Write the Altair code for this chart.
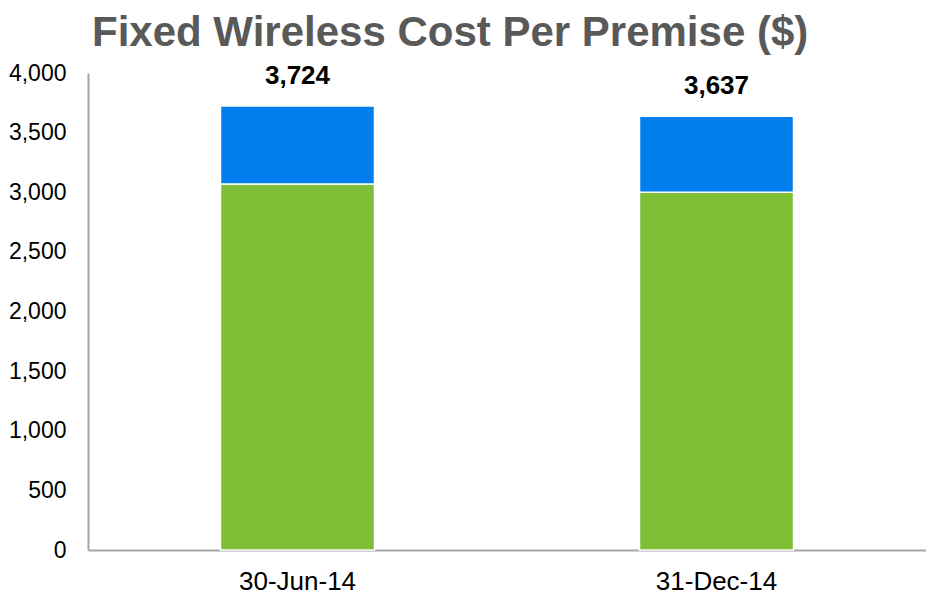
import altair as alt
import pandas as pd

dates = ["30-Jun-14", "31-Dec-14"]
green_vals = [3070, 3000]
blue_vals = [654, 637]
totals = [3724, 3637]
segments = ["Base", "Other"]
colors = ["#7DBF35", "#007EEE"]

rows = []
for d, g, b in zip(dates, green_vals, blue_vals):
    rows.append({"date": d, "segment": segments[0], "value": g, "order": 0})
    rows.append({"date": d, "segment": segments[1], "value": b, "order": 1})
df = pd.DataFrame(rows)
tot = pd.DataFrame({"date": dates, "total": totals})

x = alt.X("date:N", sort=dates, title=None,
          scale=alt.Scale(paddingInner=0, paddingOuter=0),
          axis=alt.Axis(labelAngle=0, labelFont="Liberation Sans", labelFontSize=26,
                        labelColor="#000000", labelPadding=18, ticks=False,
                        domainColor="#A6A6A6", domainWidth=2, grid=False))

bars = alt.Chart(df).mark_bar(size=154, stroke="white", strokeWidth=1.5).encode(
    x=x,
    y=alt.Y("value:Q", stack="zero", title=None,
            scale=alt.Scale(domain=[0, 4000], nice=False),
            axis=alt.Axis(values=list(range(0, 4001, 500)), format=",d",
                          labelFont="Liberation Sans", labelFontSize=23,
                          labelColor="#000000", labelPadding=22, ticks=False,
                          domainColor="#A6A6A6", domainWidth=2, grid=False)),
    color=alt.Color("segment:N", scale=alt.Scale(domain=segments, range=colors), legend=None),
    order=alt.Order("order:Q"),
)

labels = alt.Chart(tot).mark_text(font="Liberation Sans", fontSize=26, fontWeight="bold",
                                  color="#000000", baseline="alphabetic", dy=-22).encode(
    x=alt.X("date:N", sort=dates),
    y=alt.Y("total:Q"),
    text=alt.Text("total:Q", format=",d"),
)

chart = alt.layer(bars, labels).properties(
    width=838, height=477,
    padding={"left": 0, "top": 4, "right": 0, "bottom": 0},
    title=alt.TitleParams("Fixed Wireless Cost Per Premise ($)", font="Liberation Sans",
                          fontSize=42, fontWeight="bold", color="#595959",
                          anchor="start", frame="group", dx=4, offset=7),
).configure_view(stroke=None)

chart.save("out.html", embed_options={"renderer": "svg", "actions": False})
